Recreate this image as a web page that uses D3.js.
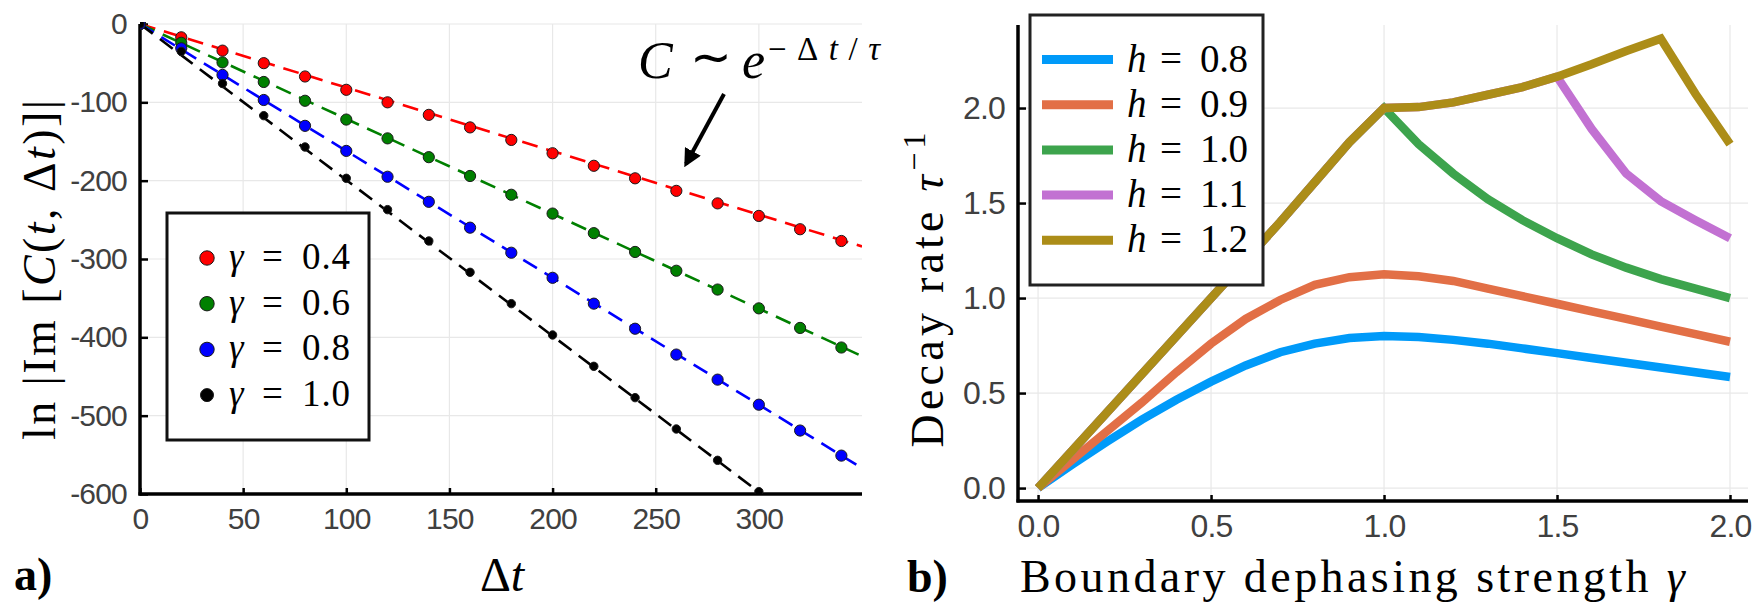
<!DOCTYPE html>
<html>
<head>
<meta charset="utf-8">
<script src="https://cdnjs.cloudflare.com/ajax/libs/d3/7.8.5/d3.min.js"></script>
<style>
  html, body { margin: 0; padding: 0; background: #fff; }
  svg { display: block; }
</style>
</head>
<body>
<svg id="chart" width="1763" height="612"></svg>
<script>

//--------------------------------------
// DATA  panel a)
//--------------------------------------

var dtValues = [0, 20, 40, 60, 80, 100, 120, 140, 160, 180, 200, 220, 240, 260, 280, 300, 320, 340];
var gammaLabels = ["0.4", "0.6", "0.8", "1.0"];
var gammaColours = ["#ff0000", "#008000", "#0000ff", "#000000"];

var logImG04 = [0, -17, -34, -50, -67, -84, -100, -116, -132, -148, -165, -181, -197, -213, -229, -245, -262, -277];
var logImG06 = [0, -24, -49, -74, -98, -122, -146, -170, -194, -218, -242, -267, -291, -315, -339, -363, -388, -413];
var logImG08 = [0, -31, -65, -97, -130, -162, -195, -227, -260, -292, -324, -357, -389, -422, -454, -486, -519, -551];
var logImG10 = [0, -35, -76, -117, -157, -197, -237, -277, -317, -357, -397, -437, -477, -517, -557, -597];

// dashed fits: value of the fitted line at dt = 350
var fitAt350 = [-284, -424, -567, -697];

var aXTicks = [0, 50, 100, 150, 200, 250, 300];
var aYTicks = [0, -100, -200, -300, -400, -500, -600];

//--------------------------------------
// DATA  panel b)
//--------------------------------------

var gammaGrid = [0, 0.1, 0.2, 0.3, 0.4, 0.5, 0.6, 0.7, 0.8, 0.9, 1.0, 1.1, 1.2, 1.3, 1.4, 1.5, 1.6, 1.7, 1.8, 1.9, 2.0];
var hLabels = ["0.8", "0.9", "1.0", "1.1", "1.2"];
var hColours = ["#009af9", "#e26f46", "#3da44d", "#c271d2", "#ac8d18"];

var rateH08 = [0, 0.125, 0.245, 0.36, 0.465, 0.56, 0.645, 0.715, 0.76, 0.79, 0.80, 0.795, 0.78, 0.76, 0.735, 0.71, 0.685, 0.66, 0.635, 0.61, 0.585];
var rateH09 = [0, 0.15, 0.30, 0.45, 0.61, 0.76, 0.89, 0.99, 1.07, 1.11, 1.125, 1.115, 1.09, 1.05, 1.01, 0.97, 0.93, 0.89, 0.85, 0.81, 0.77];
var rateH10 = [0, 0.2, 0.4, 0.6, 0.8, 1.0, 1.2, 1.4, 1.61, 1.82, 2.0, 1.81, 1.655, 1.52, 1.41, 1.315, 1.23, 1.16, 1.10, 1.05, 1.0];
var rateH11 = [0, 0.2, 0.4, 0.6, 0.8, 1.0, 1.2, 1.4, 1.61, 1.82, 2.0, 2.005, 2.03, 2.07, 2.11, 2.165, 1.89, 1.655, 1.51, 1.41, 1.315];
var rateH12 = [0, 0.2, 0.4, 0.6, 0.8, 1.0, 1.2, 1.4, 1.61, 1.82, 2.0, 2.005, 2.03, 2.07, 2.11, 2.165, 2.23, 2.30, 2.365, 2.075, 1.81];

var bTicks = [0, 0.5, 1.0, 1.5, 2.0];


var svg = d3.select("#chart");
var serif = "'Liberation Serif', 'Times New Roman', serif";
var sans = "'Liberation Sans', Arial, Helvetica, sans-serif";


//--------------------------------------
// helpers
//--------------------------------------

function _frame(g, x, y, xTicks, yTicks, fmt, fontSize, padX, padY) {

  // grid
  g.append("g").selectAll("line").data(xTicks).enter().append("line")
    .attr("x1", function(d){ return x(d); }).attr("x2", function(d){ return x(d); })
    .attr("y1", y.range()[0]).attr("y2", y.range()[1])
    .attr("stroke", "#e8e8e8").attr("stroke-width", 1.2);

  g.append("g").selectAll("line").data(yTicks).enter().append("line")
    .attr("x1", x.range()[0]).attr("x2", x.range()[1])
    .attr("y1", function(d){ return y(d); }).attr("y2", function(d){ return y(d); })
    .attr("stroke", "#e8e8e8").attr("stroke-width", 1.2);

  var xAxis = g.append("g")
    .attr("transform", "translate(0," + y.range()[0] + ")")
    .call(d3.axisBottom(x).tickValues(xTicks).tickFormat(fmt).tickSize(-6).tickPadding(padX));

  var yAxis = g.append("g")
    .attr("transform", "translate(" + x.range()[0] + ",0)")
    .call(d3.axisLeft(y).tickValues(yTicks).tickFormat(fmt).tickSize(-8).tickPadding(padY));

  [xAxis, yAxis].forEach(function(ax) {
    ax.select(".domain").remove();
    ax.attr("font-family", sans).attr("font-size", fontSize);
    ax.selectAll(".tick line").attr("stroke", "#000").attr("stroke-width", 2.5);
    ax.selectAll(".tick text").attr("fill", "#404040").attr("letter-spacing", "-0.8px");
  });

  // thick axis spines
  g.append("line")
    .attr("x1", x.range()[0]).attr("x2", x.range()[0])
    .attr("y1", y.range()[1]).attr("y2", y.range()[0] + 1.5)
    .attr("stroke", "#000").attr("stroke-width", 3.5);
  g.append("line")
    .attr("x1", x.range()[0] - 1.5).attr("x2", x.range()[1])
    .attr("y1", y.range()[0]).attr("y2", y.range()[0])
    .attr("stroke", "#000").attr("stroke-width", 3.5);
}


function _mathLabel(g, x, y, sym, num, size) {
  // "sym = num" with the symbol in italics
  var t = g.append("text").attr("y", y).attr("font-family", serif).attr("font-size", size).attr("fill", "#000");
  t.append("tspan").attr("x", x).attr("font-style", "italic").text(sym);
  t.append("tspan").attr("x", x + 33).text("=");
  t.append("tspan").attr("x", x + 73).attr("textLength", 48).attr("lengthAdjust", "spacing").text(num);
}


//--------------------------------------
// PANEL a)
//--------------------------------------

var xA = d3.scaleLinear().domain([0, 350]).range([140, 862]);
var yA = d3.scaleLinear().domain([-600, 0]).range([494, 24]);

var gA = svg.append("g");
_frame(gA, xA, yA, aXTicks, aYTicks, function(d){ return String(d); }, 30, 14, 13);

gA.append("clipPath").attr("id", "clipA").append("rect")
  .attr("x", 140).attr("y", 22).attr("width", 722).attr("height", 472);

var plotA = gA.append("g").attr("clip-path", "url(#clipA)");
var seriesA = [logImG04, logImG06, logImG08, logImG10];

seriesA.forEach(function(vals, i) {

  plotA.append("line")
    .attr("x1", xA(0)).attr("y1", yA(0))
    .attr("x2", xA(350)).attr("y2", yA(fitAt350[i]))
    .attr("stroke", gammaColours[i]).attr("stroke-width", 2.6)
    .attr("stroke-dasharray", "16,9");

});

seriesA.forEach(function(vals, i) {

  plotA.append("g").selectAll("circle").data(vals).enter().append("circle")
    .attr("cx", function(d, j){ return xA(dtValues[j]); })
    .attr("cy", function(d){ return yA(d); })
    .attr("r", i === 3 ? 4.2 : 5.6)
    .attr("fill", gammaColours[i])
    .attr("stroke", "#1a1a1a").attr("stroke-width", 1);

});

// legend a
gA.append("rect").attr("x", 167).attr("y", 213).attr("width", 202).attr("height", 227)
  .attr("fill", "#fff").attr("stroke", "#111").attr("stroke-width", 3);

gammaLabels.forEach(function(lab, i) {
  var cy = 258 + i * 45.7;
  gA.append("circle").attr("cx", 207).attr("cy", cy).attr("r", i === 3 ? 6.5 : 7.2)
    .attr("fill", gammaColours[i]).attr("stroke", "#1a1a1a").attr("stroke-width", 1);
  _mathLabel(gA, 229, cy + 11, "\u03b3", lab, 37);
});

// annotation
var ann = gA.append("g").attr("font-family", serif).attr("fill", "#000");
ann.append("text").attr("x", 638).attr("y", 78).attr("font-size", 52).attr("font-style", "italic").text("C");
ann.append("text").attr("x", 690).attr("y", 74).attr("font-size", 50).text("\u223c");
ann.append("text").attr("x", 742).attr("y", 78).attr("font-size", 52).attr("font-style", "italic").text("e");
var sup = ann.append("text").attr("x", 768).attr("y", 60).attr("font-size", 33)
  .attr("textLength", 112).attr("lengthAdjust", "spacing");
sup.append("tspan").text("\u2212\u0394");
sup.append("tspan").attr("font-style", "italic").text("t");
sup.append("tspan").text("/");
sup.append("tspan").attr("font-style", "italic").text("\u03c4");

svg.append("defs").append("marker")
  .attr("id", "arrowHead").attr("viewBox", "0 0 10 10").attr("refX", 8).attr("refY", 5)
  .attr("markerWidth", 4.5).attr("markerHeight", 4.5).attr("orient", "auto")
  .append("path").attr("d", "M0,0 L10,5 L0,10 Z").attr("fill", "#000");

ann.append("line").attr("x1", 724).attr("y1", 94).attr("x2", 686).attr("y2", 164)
  .attr("stroke", "#000").attr("stroke-width", 4).attr("marker-end", "url(#arrowHead)");

// axis labels a
var ylabA = gA.append("text")
  .attr("transform", "translate(55,270) rotate(-90)")
  .attr("text-anchor", "middle").attr("font-family", serif).attr("font-size", 46)
  .attr("textLength", 340).attr("lengthAdjust", "spacing");
ylabA.append("tspan").text("ln |Im [");
ylabA.append("tspan").attr("font-style", "italic").text("C");
ylabA.append("tspan").text("(");
ylabA.append("tspan").attr("font-style", "italic").text("t");
ylabA.append("tspan").text(", \u0394");
ylabA.append("tspan").attr("font-style", "italic").text("t");
ylabA.append("tspan").text(")]|");

var xlabA = gA.append("text").attr("x", 502).attr("y", 591)
  .attr("text-anchor", "middle").attr("font-family", serif).attr("font-size", 48);
xlabA.append("tspan").text("\u0394");
xlabA.append("tspan").attr("font-style", "italic").text("t");

gA.append("text").attr("x", 14).attr("y", 590).attr("font-family", serif)
  .attr("font-weight", "bold").attr("font-size", 46).text("a)");


//--------------------------------------
// PANEL b)
//--------------------------------------

var xB = d3.scaleLinear().domain([-0.058, 2.052]).range([1018, 1748]);
var yB = d3.scaleLinear().domain([-0.068, 2.437]).range([501, 25]);

var gB = svg.append("g");
_frame(gB, xB, yB, bTicks, bTicks, d3.format(".1f"), 32, 13, 13);

var lineB = d3.line()
  .x(function(d, j){ return xB(gammaGrid[j]); })
  .y(function(d){ return yB(d); });

[rateH08, rateH09, rateH10, rateH11, rateH12].forEach(function(vals, i) {
  gB.append("path").datum(vals)
    .attr("d", lineB)
    .attr("fill", "none")
    .attr("stroke", hColours[i])
    .attr("stroke-width", 8.5)
    .attr("stroke-linejoin", "miter");
});

// legend b
gB.append("rect").attr("x", 1030).attr("y", 15).attr("width", 233).attr("height", 270)
  .attr("fill", "#fff").attr("stroke", "#222").attr("stroke-width", 3);

hLabels.forEach(function(lab, i) {
  var cy = 59.5 + i * 45.2;
  gB.append("line").attr("x1", 1042).attr("x2", 1113).attr("y1", cy).attr("y2", cy)
    .attr("stroke", hColours[i]).attr("stroke-width", 9);
  _mathLabel(gB, 1127, cy + 12, "h", lab, 39);
});

// axis labels b
var ylabB = gB.append("text")
  .attr("transform", "translate(943,290) rotate(-90)")
  .attr("text-anchor", "middle").attr("font-family", serif).attr("font-size", 46)
  .attr("textLength", 315).attr("lengthAdjust", "spacing");
ylabB.append("tspan").text("Decay rate ");
ylabB.append("tspan").attr("font-style", "italic").text("\u03c4");
ylabB.append("tspan").attr("font-size", 32).attr("dy", -18).text("\u22121");

var xlabB = gB.append("text").attr("x", 1020).attr("y", 592)
  .attr("font-family", serif).attr("font-size", 46)
  .attr("textLength", 665).attr("lengthAdjust", "spacing");
xlabB.append("tspan").text("Boundary dephasing strength ");
xlabB.append("tspan").attr("font-style", "italic").text("\u03b3");

gB.append("text").attr("x", 907).attr("y", 592).attr("font-family", serif)
  .attr("font-weight", "bold").attr("font-size", 46).text("b)");

</script>
</body>
</html>
